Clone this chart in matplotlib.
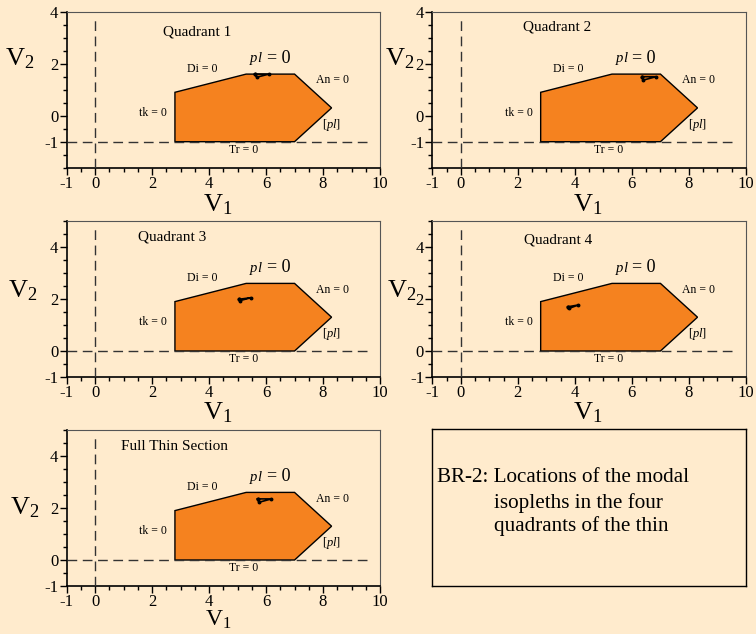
import matplotlib
matplotlib.use("Agg")
import matplotlib.pyplot as plt
from matplotlib.ticker import MultipleLocator, FixedLocator
import numpy as np

plt.rcParams['font.family'] = ['Liberation Serif', 'DejaVu Serif']
plt.rcParams['mathtext.fontset'] = 'custom'
plt.rcParams['mathtext.rm'] = 'Liberation Serif'
plt.rcParams['mathtext.it'] = 'Liberation Serif:italic'

BG = '#FFEBCD'
ORANGE = '#F5821F'

# ---- data ----
panel_titles = ["Quadrant 1", "Quadrant 2", "Quadrant 3", "Quadrant 4", "Full Thin Section"]
poly_v1 = [2.8, 2.8, 5.3, 7.0, 8.3, 7.0]
poly_v2_q12 = [-1.0, 0.9, 1.6, 1.6, 0.3, -1.0]
poly_v2_rest = [0.0, 1.9, 2.6, 2.6, 1.3, 0.0]

tri_q1_v1 = [5.60, 6.10, 5.67]
tri_q1_v2 = [1.60, 1.60, 1.48]
tri_q2_v1 = [6.35, 6.85, 6.40]
tri_q2_v2 = [1.50, 1.50, 1.37]
tri_q3_v1 = [5.06, 5.47, 5.09]
tri_q3_v2 = [1.99, 2.05, 1.94]
tri_q4_v1 = [3.75, 4.12, 3.80]
tri_q4_v2 = [1.70, 1.77, 1.64]
tri_full_v1 = [5.70, 6.19, 5.75]
tri_full_v2 = [2.35, 2.35, 2.22]

x_ticks = [-1, 0, 2, 4, 6, 8, 10]
y_ticks = [-1, 0, 2, 4]
ylim_q12 = (-2, 4)
ylim_rest = (-1, 5)
baseline_q12 = -1.0
baseline_rest = 0.0

caption_lines = ["BR-2: Locations of the modal", "isopleths in the four", "quadrants of the thin"]

fig = plt.figure(figsize=(7.56, 6.34), dpi=100, facecolor=BG)
W, H = 756, 634

def ax_at(l, t, r, b):
    return fig.add_axes([l / W, 1 - b / H, (r - l) / W, (b - t) / H])

panels = [
    dict(rect=(66.7, 11.7, 380, 167.7), poly=poly_v2_q12, tri=(tri_q1_v1, tri_q1_v2), ylim=ylim_q12,
         base=baseline_q12, title_xy=(2.37, 3.2), ylab=(-0.15, 0.70), xlab=(0.483, -0.16), xfs=19),
    dict(rect=(432.3, 11.7, 746, 167.7), poly=poly_v2_q12, tri=(tri_q2_v1, tri_q2_v2), ylim=ylim_q12,
         base=baseline_q12, title_xy=(2.17, 3.4), ylab=(-0.105, 0.70), xlab=(0.496, -0.16), xfs=19),
    dict(rect=(66.7, 221, 380, 377), poly=poly_v2_rest, tri=(tri_q3_v1, tri_q3_v2), ylim=ylim_rest,
         base=baseline_rest, title_xy=(1.5, 4.38), ylab=(-0.14, 0.55), xlab=(0.483, -0.15), xfs=19),
    dict(rect=(432.3, 221, 746, 377), poly=poly_v2_rest, tri=(tri_q4_v1, tri_q4_v2), ylim=ylim_rest,
         base=baseline_rest, title_xy=(2.22, 4.27), ylab=(-0.098, 0.55), xlab=(0.496, -0.15), xfs=19),
    dict(rect=(66.7, 430, 380, 586), poly=poly_v2_rest, tri=(tri_full_v1, tri_full_v2), ylim=ylim_rest,
         base=baseline_rest, title_xy=(0.9, 4.38), ylab=(-0.135, 0.50), xlab=(0.483, -0.148), xfs=17),
]

for title, p in zip(panel_titles, panels):
    ax = ax_at(*p['rect'])
    ax.set_facecolor(BG)
    ax.set_xlim(-1, 10)
    ax.set_ylim(*p['ylim'])
    off = p['base'] - baseline_q12
    # polygon
    ax.fill(poly_v1, p['poly'], facecolor=ORANGE, edgecolor='black', linewidth=1.0, zorder=2)
    # dashed reference lines
    ax.plot([-1, 9.7], [p['base'], p['base']], color='#333333', lw=1.0, dashes=(7, 4), zorder=3)
    ax.plot([0, 0], [p['ylim'][0], p['ylim'][1] - 0.28], color='#333333', lw=1.0, dashes=(7, 4), zorder=3)
    # isopleth triangle
    tx, ty = p['tri']
    ax.plot(list(tx) + [tx[0]], list(ty) + [ty[0]], color='black', lw=1.2, marker='o', ms=1.8, zorder=4)
    # labels
    ax.text(p['title_xy'][0], p['title_xy'][1], title, fontsize=11, ha='left', va='center')
    ax.text(3.77, 1.8 + off, "Di = 0", fontsize=8.5, ha='center', va='center')
    ax.text(5.90, 2.19 + off, r"$pl$", fontsize=10.5, ha='right', va='center')
    ax.text(6.02, 2.21 + off, "= 0", fontsize=13, ha='left', va='center')
    ax.text(8.32, 1.36 + off, "An = 0", fontsize=8.5, ha='center', va='center')
    ax.text(2.04, 0.1 + off, "tk = 0", fontsize=8.5, ha='center', va='center')
    ax.text(8.3, -0.35 + off, r"[$pl$]", fontsize=9, ha='center', va='center')
    ax.text(5.2, -1.31 + off, "Tr = 0", fontsize=8.5, ha='center', va='center')
    # axes styling
    ax.xaxis.set_major_locator(FixedLocator(x_ticks))
    ax.xaxis.set_minor_locator(MultipleLocator(0.5))
    ax.yaxis.set_major_locator(FixedLocator(y_ticks))
    ax.yaxis.set_minor_locator(MultipleLocator(0.5))
    ax.set_xticklabels([str(v) for v in x_ticks])
    ax.set_yticklabels([str(v) for v in y_ticks])
    ax.tick_params(which='both', direction='out', top=False, right=False, labelsize=12, pad=1)
    ax.tick_params(which='major', length=5, width=1.0)
    ax.tick_params(which='minor', length=3, width=1.0)
    for s in ('left', 'bottom'):
        ax.spines[s].set_color('black')
        ax.spines[s].set_linewidth(1.2)
    for s in ('top', 'right'):
        ax.spines[s].set_color('#555555')
        ax.spines[s].set_linewidth(0.8)
    ax.text(p['ylab'][0], p['ylab'][1], r"V$_2$", transform=ax.transAxes, fontsize=19,
            ha='center', va='center')
    ax.text(p['xlab'][0], p['xlab'][1], r"V$_1$", transform=ax.transAxes, fontsize=p['xfs'],
            ha='center', va='top')

# caption box
cax = ax_at(432.3, 429.3, 745.7, 586)
cax.set_facecolor(BG)
cax.set_xticks([])
cax.set_yticks([])
for s in cax.spines.values():
    s.set_color('black')
    s.set_linewidth(1.0)
cax.text((436.7 - 432.3) / 313.4, (586 - 478) / 156.7, caption_lines[0], transform=cax.transAxes,
         fontsize=15.2, ha='left', va='center')
for i, line in enumerate(caption_lines[1:]):
    cax.text((494 - 432.3) / 313.4, (586 - 503 - 23.5 * i) / 156.7, line, transform=cax.transAxes,
             fontsize=15.2, ha='left', va='center')

fig.savefig("out.png", dpi=100, facecolor=BG)
